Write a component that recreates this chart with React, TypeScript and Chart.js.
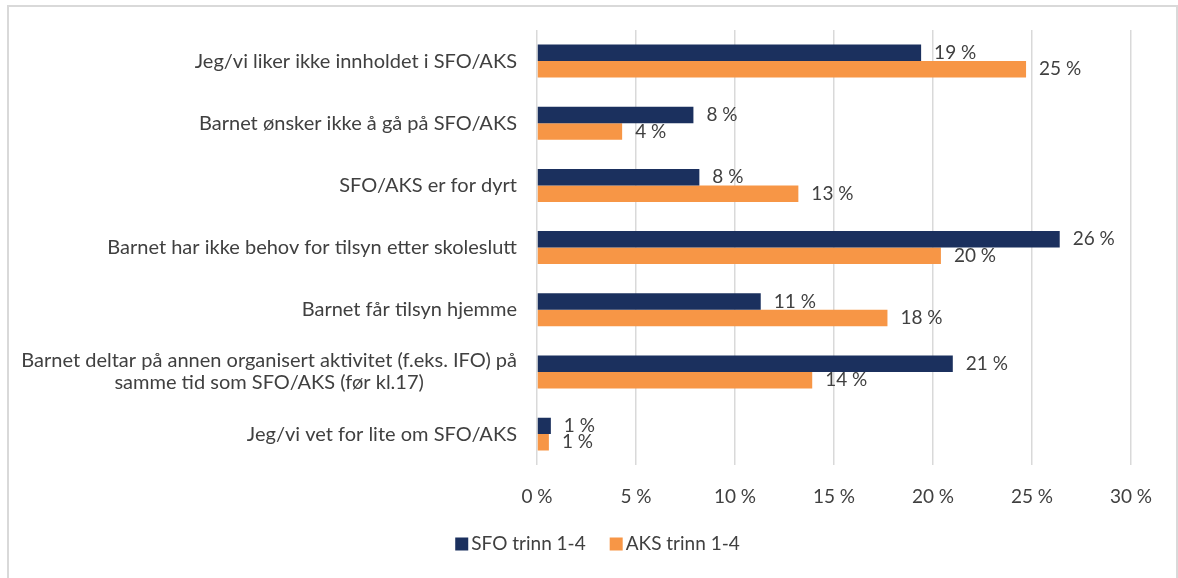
import React, { useEffect, useRef } from 'react';
import { Chart, registerables } from 'chart.js';

Chart.register(...registerables);

const categories: (string | string[])[] = [
  'Jeg/vi liker ikke innholdet i SFO/AKS',
  'Barnet ønsker ikke å gå på SFO/AKS',
  'SFO/AKS er for dyrt',
  'Barnet har ikke behov for tilsyn etter skoleslutt',
  'Barnet får tilsyn hjemme',
  ['Barnet deltar på annen organisert aktivitet (f.eks. IFO) på', 'samme tid som SFO/AKS (før kl.17)'],
  'Jeg/vi vet for lite om SFO/AKS',
];
const sfoValues = [19.4, 7.9, 8.2, 26.4, 11.3, 21.0, 0.7];
const aksValues = [24.7, 4.3, 13.2, 20.4, 17.7, 13.9, 0.6];
const seriesNames = ['SFO trinn 1-4', 'AKS trinn 1-4'];
const seriesColors = ['#1b305e', '#f79646'];
const xMin = 0;
const xMax = 30;
const xStep = 5;

const FONT = 'Lato';
const TEXT = '#404040';
const FS_CAT = 20;
const FS = 19;

const labelPlugin = {
  id: 'customLabels',
  afterDraw(chart: any) {
    const ctx = chart.ctx;
    ctx.save();
    ctx.fillStyle = TEXT;
    ctx.textBaseline = 'middle';
    // data labels
    ctx.font = `${FS}px ${FONT}`;
    chart.data.datasets.forEach((ds: any, i: number) => {
      const meta = chart.getDatasetMeta(i);
      meta.data.forEach((bar: any, j: number) => {
        const v = ds.data[j];
        ctx.textAlign = 'left';
        ctx.fillText(`${Math.round(v)} %`, bar.x + 13, bar.y);
      });
    });
    // category labels
    ctx.font = `${FS_CAT}px ${FONT}`;
    const yScale = chart.scales.y;
    const rightEdge = chart.chartArea.left - 20;
    const lineH = 22;
    categories.forEach((cat, i) => {
      const y = yScale.getPixelForValue(i);
      const lines = Array.isArray(cat) ? cat : [cat];
      const widths = lines.map((l) => ctx.measureText(l).width);
      const maxW = Math.max(...widths);
      const cx = rightEdge - maxW / 2;
      lines.forEach((l, k) => {
        const ly = y + (k - (lines.length - 1) / 2) * lineH;
        if (lines.length === 1) {
          ctx.textAlign = 'right';
          ctx.fillText(l, rightEdge, ly);
        } else {
          ctx.textAlign = 'center';
          ctx.fillText(l, cx, ly);
        }
      });
    });
    // legend
    ctx.font = `${FS}px ${FONT}`;
    const box = 13;
    const gapText = 3;
    const gapItem = 24;
    const items = chart.data.datasets.map((ds: any) => ({
      text: ds.label,
      color: ds.backgroundColor,
      w: box + gapText + ctx.measureText(ds.label).width,
    }));
    const total = items.reduce((a: number, it: any) => a + it.w, 0) + gapItem * (items.length - 1);
    const legendCenterX = 597.5;
    const legendY = 544;
    let x = legendCenterX - total / 2;
    ctx.textAlign = 'left';
    items.forEach((it: any) => {
      ctx.fillStyle = it.color;
      ctx.fillRect(x, legendY - 6.5, box, box);
      ctx.fillStyle = TEXT;
      ctx.fillText(it.text, x + box + gapText, legendY);
      x += it.w + gapItem;
    });
    ctx.restore();
  },
};

export default function App() {
  const ref = useRef<HTMLCanvasElement>(null);
  useEffect(() => {
    if (!ref.current) return;
    const chart = new Chart(ref.current, {
      type: 'bar',
      data: {
        labels: categories.map((c) => (Array.isArray(c) ? c.join(' ') : c)),
        datasets: [
          {
            label: seriesNames[0],
            data: sfoValues,
            backgroundColor: seriesColors[0],
            borderWidth: 0,
            categoryPercentage: 0.53,
            barPercentage: 1.0,
          },
          {
            label: seriesNames[1],
            data: aksValues,
            backgroundColor: seriesColors[1],
            borderWidth: 0,
            categoryPercentage: 0.53,
            barPercentage: 1.0,
          },
        ],
      },
      options: {
        indexAxis: 'y',
        responsive: false,
        animation: false,
        layout: { padding: { left: 17, right: 0, top: 30, bottom: 50 } },
        scales: {
          x: {
            min: xMin,
            max: xMax,
            border: { display: false },
            grid: { color: '#d9d9d9', lineWidth: 1.5, drawTicks: false },
            ticks: {
              stepSize: xStep,
              padding: 20,
              color: TEXT,
              font: { family: FONT, size: FS },
              callback: (v: any) => `${v} %`,
            },
          },
          y: {
            display: true,
            grid: { display: false },
            border: { display: false },
            ticks: { display: false },
            afterFit: (s: any) => {
              s.width = 520;
            },
          },
          y2: {
            type: 'linear',
            position: 'right',
            display: true,
            grid: { display: false },
            border: { display: false },
            ticks: { display: false },
            afterFit: (s: any) => {
              s.width = 47;
            },
          },
        },
        plugins: {
          legend: { display: false },
          tooltip: { enabled: false },
        },
      },
      plugins: [labelPlugin],
    } as any);
    return () => chart.destroy();
  }, []);

  return (
    <div style={{ position: 'absolute', left: 0, top: 0, width: 1178, height: 578, overflow: 'hidden', background: '#fff' }}>
      <div
        style={{
          position: 'absolute',
          left: 7,
          top: 5,
          width: 1171,
          height: 590,
          boxSizing: 'border-box',
          border: '2px solid #d9d9d9',
        }}
      />
      <canvas ref={ref} width={1178} height={578} style={{ position: 'absolute', left: 0, top: 0 }} />
    </div>
  );
}
